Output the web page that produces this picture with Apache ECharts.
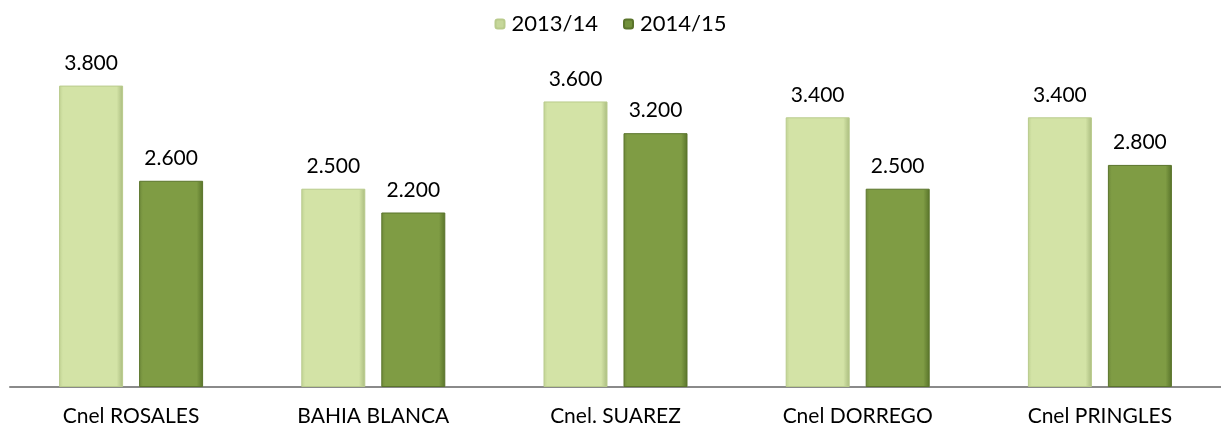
<!DOCTYPE html>
<html><head><meta charset="utf-8">
<script src="https://cdn.jsdelivr.net/npm/echarts@6/dist/echarts.min.js"></script>
<style>html,body{margin:0;padding:0;background:#fff}#c{width:1221px;height:430px}</style>
</head><body><div id="c"></div>
<script>
const categories = ['Cnel ROSALES', 'BAHIA BLANCA', 'Cnel. SUAREZ', 'Cnel DORREGO', 'Cnel PRINGLES'];
const seriesNames = ['2013/14', '2014/15'];
const values1314 = [3800, 2500, 3600, 3400, 3400];
const values1415 = [2600, 2200, 3200, 2500, 2800];

const fmt = v => { const s = String(Math.round(v)); return s.length > 3 ? s.slice(0, -3) + '.' + s.slice(-3) : s; };
const font = 'Lato, "Open Sans", sans-serif';
function grad(edge, mid, light) {
  return new echarts.graphic.LinearGradient(0, 0, 1, 0, [
    {offset: 0, color: edge}, {offset: 0.06, color: mid}, {offset: 0.9, color: mid}, {offset: 1, color: light}
  ]);
}
const chart = echarts.init(document.getElementById('c'), null, {renderer: 'canvas'});
chart.setOption({
  animation: false,
  legend: {
    top: 8, left: 'center', itemWidth: 9, itemHeight: 9, itemGap: 25,
    textStyle: {fontFamily: font, fontSize: 22, color: '#000', padding: [0, 0, 0, 2]},
    data: [
      {name: seriesNames[0], itemStyle: {color: '#c6d79a'}},
      {name: seriesNames[1], itemStyle: {color: '#71903a'}}
    ]
  },
  grid: {left: 10, right: 0, top: 38, bottom: 43},
  xAxis: {
    type: 'category', data: categories,
    axisLine: {lineStyle: {color: '#8a8a8a', width: 2}},
    axisTick: {show: false},
    axisLabel: {fontFamily: font, fontSize: 21, color: '#000', margin: 19}
  },
  yAxis: {type: 'value', min: 0, max: 4400, show: false, splitLine: {show: false}},
  series: [
    {
      name: seriesNames[0], type: 'bar', data: values1314, barWidth: 64, barGap: '25%',
      itemStyle: {color: grad('#c0d293', '#d3e3a6', '#a9bb7e'), borderColor: '#b9cb8c', borderWidth: 1},
      label: {show: true, position: 'top', distance: 12, formatter: p => fmt(p.value), fontFamily: font, fontSize: 21, color: '#000'}
    },
    {
      name: seriesNames[1], type: 'bar', data: values1415, barWidth: 64,
      itemStyle: {color: grad('#6e893a', '#7f9c44', '#58732a'), borderColor: '#5a742b', borderWidth: 1},
      label: {show: true, position: 'top', distance: 12, formatter: p => fmt(p.value), fontFamily: font, fontSize: 21, color: '#000'}
    }
  ]
});
</script></body></html>
